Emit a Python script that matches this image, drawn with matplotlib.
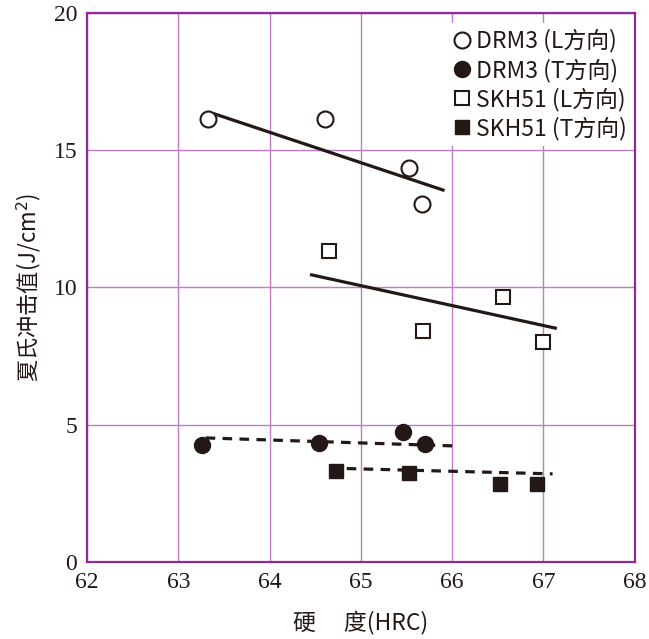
import numpy as np
from matplotlib import pyplot as plt

plt.rcParams["font.family"] = ["Noto Sans CJK SC", "DejaVu Sans"]

# measured points (hardness HRC, impact value J/cm2)
drm3_l_x = [63.33, 64.61, 65.53, 65.67]
drm3_l_y = [16.14, 16.14, 14.35, 13.04]
drm3_t_x = [63.26, 64.54, 65.46, 65.70]
drm3_t_y = [4.26, 4.34, 4.74, 4.30]
skh51_l_x = [64.65, 65.68, 66.56, 67.00]
skh51_l_y = [11.33, 8.42, 9.65, 8.01]
skh51_t_x = [64.73, 65.53, 66.52, 66.93]
skh51_t_y = [3.32, 3.24, 2.84, 2.84]

# trend line end points
drm3_l_fit_x = [63.40, 65.90]
drm3_l_fit_y = [16.32, 13.55]
drm3_t_fit_x = [63.30, 66.00]
drm3_t_fit_y = [4.52, 4.23]
skh51_l_fit_x = [64.46, 67.13]
skh51_l_fit_y = [10.46, 8.52]
skh51_t_fit_x = [64.66, 67.10]
skh51_t_fit_y = [3.42, 3.21]

labels = ["DRM3 (L方向)", "DRM3 (T方向)", "SKH51 (L方向)", "SKH51 (T方向)"]

spine_c = "#8e2a92"
grid_c = "#c07cc6"
ink = "#231815"

fig = plt.figure(figsize=(6.49, 6.39), dpi=100)
ax = fig.add_axes([0.134, 0.1205, 0.844, 0.8592])

dash = (0, (3.0, 2.3))
ax.plot(drm3_l_fit_x, drm3_l_fit_y, color=ink, lw=2.3, zorder=3)
ax.plot(skh51_l_fit_x, skh51_l_fit_y, color=ink, lw=2.3, zorder=3)
ax.plot(drm3_t_fit_x, drm3_t_fit_y, color=ink, lw=2.3, ls=dash, zorder=3)
ax.plot(skh51_t_fit_x, skh51_t_fit_y, color=ink, lw=2.3, ls=dash, zorder=3)

h1, = ax.plot(drm3_l_x, drm3_l_y, "o", ms=11.5, mfc="white", mec=ink, mew=1.5, zorder=4)
h2, = ax.plot(drm3_t_x, drm3_t_y, "o", ms=11.5, mfc=ink, mec=ink, zorder=4)
h3, = ax.plot(skh51_l_x, skh51_l_y, "s", ms=9.5, mfc="white", mec=ink, mew=1.5, zorder=4)
h4, = ax.plot(skh51_t_x, skh51_t_y, "s", ms=9.5, mfc=ink, mec=ink, zorder=4)

ax.set_xlim(62, 68)
ax.set_ylim(0, 20)
ax.set_xticks(range(62, 69))
ax.set_yticks([0, 5, 10, 15, 20])
ax.grid(True, color=grid_c, lw=1.0)
ax.set_axisbelow(True)
for s in ax.spines.values():
    s.set_color(spine_c)
    s.set_linewidth(1.6)
ax.tick_params(length=0, pad=7, labelsize=17, labelcolor=ink)
for t in ax.get_xticklabels() + ax.get_yticklabels():
    t.set_fontfamily("Liberation Serif")

ax.set_xlabel("硬　 度(HRC)", fontsize=16.5, color=ink, labelpad=13)
ax.set_ylabel("夏氏冲击值(J/cm$^2$)", fontsize=16, color=ink, labelpad=8)

leg = ax.legend([h1, h2, h3, h4], labels, loc="upper right",
                bbox_to_anchor=(1.0, 0.985), fontsize=16.5,
                frameon=True, fancybox=False, handletextpad=0.15,
                borderaxespad=0.1, borderpad=0.25, labelspacing=0.24,
                handlelength=0.9)
leg.get_frame().set_facecolor("white")
leg.get_frame().set_edgecolor("none")
leg.get_frame().set_alpha(1)
for t in leg.get_texts():
    t.set_color(ink)

fig.savefig("out.png", dpi=100)
